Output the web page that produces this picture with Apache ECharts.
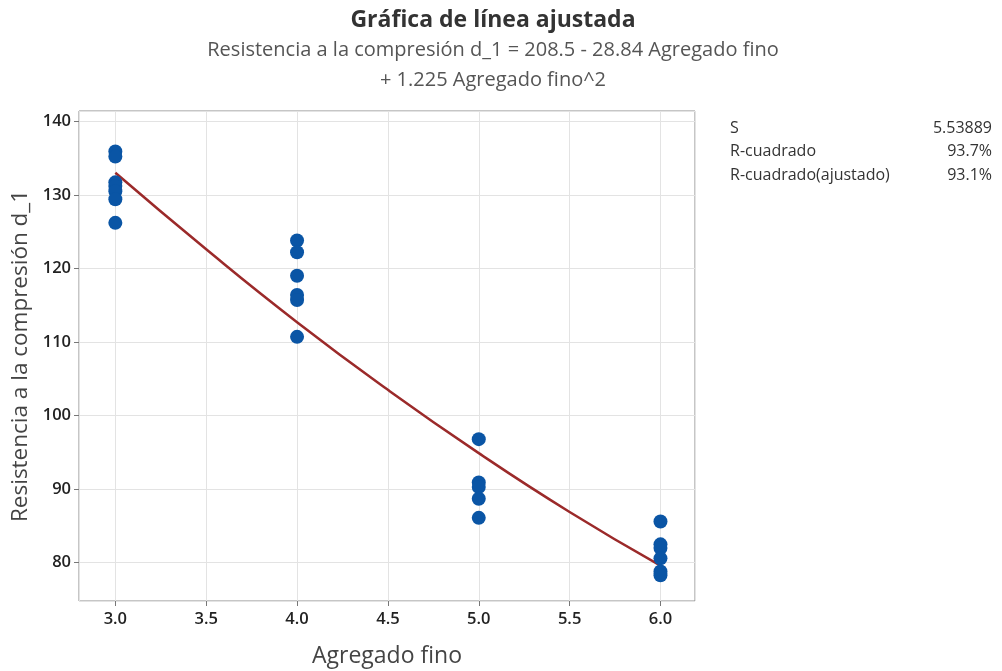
<!DOCTYPE html>
<html>
<head>
<meta charset="utf-8">
<script src="https://cdn.jsdelivr.net/npm/echarts@6/dist/echarts.min.js"></script>
<style>
html, body { margin: 0; padding: 0; background: #fff; }
#chartBox { width: 1002px; height: 671px; }
</style>
</head>
<body>
<div id="chartBox"></div>
<script>
// observed points: Agregado fino vs Resistencia a la compresion d_1
const aggX = [3, 3, 3, 3, 3, 3, 3,
              4, 4, 4, 4, 4, 4,
              5, 5, 5, 5, 5,
              6, 6, 6, 6, 6, 6];
const strengthY = [135.9, 135.2, 131.7, 131.2, 130.5, 129.4, 126.2,
                   123.8, 122.2, 119.0, 116.4, 115.7, 110.7,
                   96.8, 90.9, 90.3, 88.7, 86.1,
                   85.6, 82.5, 82.0, 80.6, 78.8, 78.3];

// fitted line values
const fitX = [3.0, 3.5, 4.0, 4.5, 5.0, 5.5, 6.0];
const fitY = [133.0, 122.6, 112.7, 103.5, 94.9, 86.9, 79.6];

// model summary
const statNames = ['S', 'R-cuadrado', 'R-cuadrado(ajustado)'];
const statValues = ['5.53889', '93.7%', '93.1%'];

const font = '"Open Sans", "Noto Sans", sans-serif';

let chart = echarts.init(document.getElementById('chartBox'));

let points = aggX.map((x, i) => [x, strengthY[i]]);
let fitLine = fitX.map((x, i) => [x, fitY[i]]);

let statText = [];
statNames.forEach((n, i) => {
    statText.push({
        type: 'text', left: 730, top: 120 + i * 23.5,
        style: { text: n, font: '16px ' + font, fill: '#333' }
    });
    statText.push({
        type: 'text', right: 10, top: 120 + i * 23.5,
        style: { text: statValues[i], font: '16px ' + font, fill: '#333', textAlign: 'right' }
    });
});

let option = {
    animation: false,
    textStyle: { fontFamily: font },
    title: {
        text: 'Gráfica de línea ajustada',
        subtext: 'Resistencia a la compresión d_1 = 208.5 - 28.84 Agregado fino\n+ 1.225 Agregado fino^2',
        left: 488, textAlign: 'center', top: 4,
        itemGap: 3,
        textStyle: { fontSize: 23, fontWeight: 'bold', color: '#333', fontFamily: font },
        subtextStyle: { fontSize: 20, color: '#555', lineHeight: 30, fontFamily: font }
    },
    grid: {
        left: 79, top: 111, width: 616, height: 490,
        outerBoundsMode: 'none',
        containLabel: false,
        show: true, borderColor: '#8c8c8c', borderWidth: 1
    },
    xAxis: {
        type: 'value',
        min: 2.8, max: 6.19,
        name: 'Agregado fino',
        nameLocation: 'middle', nameGap: 44,
        nameTextStyle: { fontSize: 23, color: '#444' },
        axisLine: { show: false },
        axisTick: { show: true, length: 5, lineStyle: { color: '#777' } },
        axisLabel: {
            fontSize: 16.5, fontWeight: 600, color: '#222', margin: 10,
            showMinLabel: false, showMaxLabel: false,
            formatter: v => v.toFixed(1)
        },
        splitLine: { show: true, lineStyle: { color: '#e3e3e3' } }
    },
    yAxis: {
        type: 'value',
        min: 74.8, max: 141.4,
        name: 'Resistencia a la compresión d_1',
        nameLocation: 'middle', nameGap: 47,
        nameTextStyle: { fontSize: 22.5, color: '#444' },
        axisLine: { show: false },
        axisTick: { show: true, length: 5, lineStyle: { color: '#777' } },
        axisLabel: {
            fontSize: 16.5, fontWeight: 600, color: '#222', margin: 8,
            showMinLabel: false, showMaxLabel: false
        },
        splitLine: { show: true, lineStyle: { color: '#e3e3e3' } }
    },
    graphic: statText,
    series: [{
        type: 'line',
        data: fitLine,
        smooth: true,
        showSymbol: false,
        lineStyle: { color: '#9b2a2a', width: 2.5 },
        z: 2
    }, {
        type: 'scatter',
        data: points,
        symbolSize: 14,
        itemStyle: { color: '#0a55a5', opacity: 1 },
        z: 3
    }]
};

chart.setOption(option);
</script>
</body>
</html>
